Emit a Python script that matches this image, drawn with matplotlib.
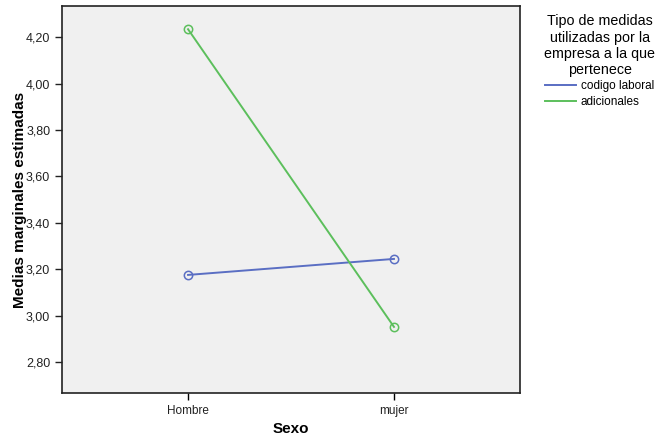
import matplotlib
matplotlib.use("Agg")
import matplotlib.pyplot as plt
from matplotlib.lines import Line2D
from matplotlib.ticker import FuncFormatter

sexo = ["Hombre", "mujer"]
codigo_laboral = [3.175, 3.244]
adicionales = [4.234, 2.951]
yticks = [2.80, 3.00, 3.20, 3.40, 3.60, 3.80, 4.00, 4.20]
series_names = ["codigo laboral", "adicionales"]
colors = ["#5a6ec3", "#5cbf5c"]

plt.rcParams["font.family"] = ["Liberation Sans", "DejaVu Sans"]

fig = plt.figure(figsize=(6.62, 4.40), dpi=100)
ax = fig.add_axes([0.0937, 0.1068, 0.6918, 0.8795])
ax.set_facecolor("#f0f0f0")

x = range(len(sexo))
for vals, c, name in zip([codigo_laboral, adicionales], colors, series_names):
    ax.plot(x, vals, color=c, lw=1.4, marker="o", ms=6,
            mfc="none", mec=c, mew=1.1, label=name)

ax.set_xlim(-0.612, 1.612)
ax.set_ylim(2.666, 4.334)
ax.set_xticks(list(x))
ax.set_xticklabels(sexo, fontsize=8.5, color="#222222")
ax.set_yticks(yticks)
ax.yaxis.set_major_formatter(FuncFormatter(lambda v, p: f"{v:.2f}".replace(".", ",")))
ax.tick_params(axis="y", labelsize=9, colors="#222222", length=5, width=1)
ax.tick_params(axis="x", length=5, width=1)
for s in ax.spines.values():
    s.set_linewidth(1.2)
    s.set_color("#222222")

ax.set_xlabel("Sexo", fontsize=11, fontweight="bold", labelpad=4)
ax.set_ylabel("Medias marginales estimadas", fontsize=11, fontweight="bold")
ax.yaxis.set_label_coords(-0.076, 0.5)

handles = [Line2D([], [], color=c, lw=1.4) for c in colors]
leg = fig.legend(handles, series_names, loc="upper left", bbox_to_anchor=(0.815, 0.978),
                 frameon=False,
                 title="Tipo de medidas\nutilizadas por la\nempresa a la que\npertenece",
                 fontsize=8.5, title_fontsize=10.3, handlelength=2.6, handletextpad=0.4,
                 borderaxespad=0, labelspacing=0.35)
leg.get_title().set_multialignment("center")
leg.get_title().set_linespacing(1.2)
leg._legend_box.sep = 2
leg._legend_box.align = "center"

fig.savefig("out.png", dpi=100)
